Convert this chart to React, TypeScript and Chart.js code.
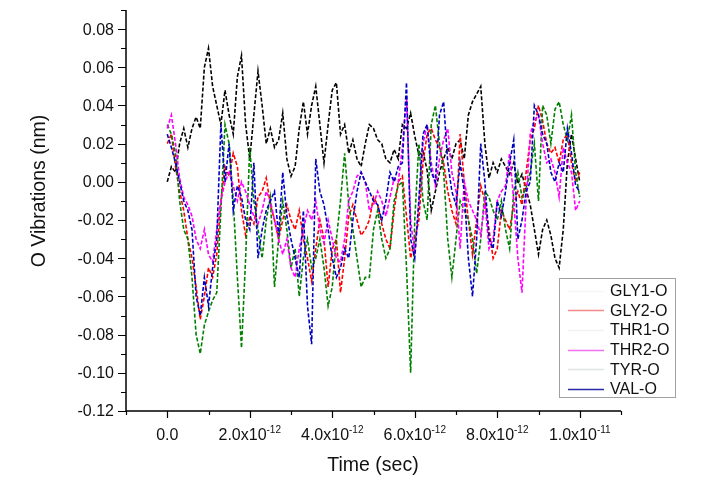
import React, { useRef, useEffect } from 'react';
import { Chart, registerables } from 'chart.js';

Chart.register(...registerables);

// sample spacing of the trajectory (sec)
const timeStep = 1e-13;

const seriesLabels = ['GLY1-O', 'GLY2-O', 'THR1-O', 'THR2-O', 'TYR-O', 'VAL-O'];
const seriesColors = ['#000000', '#ff0000', '#ffffff', '#ff00ff', '#008000', '#0000c0'];
const legendColors = ['#f6f6f6', '#f28a8a', '#f2f2f2', '#f070f0', '#dfe6e2', '#2828a8'];

const gly1 = [
  0.000, 0.008, 0.005, 0.020, 0.028, 0.018, 0.028, 0.034, 0.028, 0.060,
  0.070, 0.050, 0.040, 0.030, 0.048, 0.035, 0.025, 0.055, 0.066, 0.030,
  0.012, 0.035, 0.058, 0.040, 0.020, 0.028, 0.018, 0.022, 0.036, 0.012,
  0.003, 0.008, 0.028, 0.042, 0.025, 0.040, 0.050, 0.030, 0.010, 0.030,
  0.048, 0.052, 0.025, 0.030, 0.015, 0.022, 0.012, 0.008, 0.020, 0.030,
  0.028, 0.022, 0.020, 0.012, 0.010, 0.017, 0.012, 0.030, 0.028, 0.036,
  0.024, 0.014, 0.016, 0.006, -0.015, -0.005, 0.005, 0.012, 0.018, 0.012,
  0.020, 0.022, 0.012, 0.035, 0.042, 0.046, 0.050, 0.020, 0.002, 0.010,
  0.005, 0.012, 0.008, 0.004, 0.010, -0.001, 0.004, -0.004, -0.012, -0.025,
  -0.038, -0.025, -0.020, -0.028, -0.040, -0.045, -0.025, 0.010, 0.025, 0.012,
  0.000,
];

const gly2 = [
  0.020, 0.025, 0.008, -0.005, -0.015, -0.030, -0.040, -0.055, -0.072, -0.060,
  -0.045, -0.050, -0.038, -0.010, 0.008, 0.003, 0.015, 0.008, -0.015, -0.028,
  -0.018, -0.022, -0.008, -0.005, 0.002, -0.012, -0.020, -0.030, -0.020, -0.012,
  -0.020, -0.025, -0.015, -0.030, -0.040, -0.052, -0.035, -0.020, -0.030, -0.055,
  -0.035, -0.030, -0.058, -0.040, -0.018, -0.012, -0.020, -0.028, -0.025, -0.020,
  -0.008, -0.012, -0.022, -0.030, -0.035, -0.015, 0.000, 0.003, -0.018, -0.040,
  -0.030, -0.020, 0.010, 0.025, 0.028, 0.022, 0.018, 0.010, -0.005, -0.015,
  -0.022, 0.025, 0.000, -0.020, -0.038, -0.020, -0.002, -0.010, -0.025, -0.040,
  -0.035, -0.015, -0.020, -0.025, -0.012, -0.005, -0.012, 0.005, 0.022, 0.028,
  0.040, 0.032, 0.020, 0.015, 0.018, 0.010, 0.022, 0.025, 0.010, 0.000,
  0.005,
];

const thr2 = [
  0.028, 0.035, 0.020, 0.002, -0.008, -0.012, -0.018, -0.030, -0.035, -0.025,
  -0.038, -0.042, -0.025, -0.010, 0.000, 0.005, -0.002, -0.010, 0.000, -0.005,
  -0.012, -0.018, -0.022, -0.015, -0.005, -0.010, -0.020, -0.030, -0.038, -0.030,
  -0.045, -0.050, -0.035, -0.025, -0.015, -0.020, -0.010, -0.025, -0.032, -0.020,
  -0.030, -0.040, -0.042, -0.030, -0.010, -0.005, 0.003, 0.005, 0.000, -0.015,
  -0.012, -0.005, -0.010, -0.018, -0.008, 0.002, 0.000, 0.018, 0.045, -0.020,
  -0.038, -0.010, 0.020, 0.030, 0.010, -0.002, 0.012, 0.022, 0.028, 0.005,
  -0.005, -0.035, 0.000, -0.010, -0.015, -0.020, -0.028, -0.010, -0.035, -0.030,
  -0.010, -0.005, -0.002, 0.015, -0.010, -0.040, -0.058, -0.010, 0.025, 0.032,
  0.035, 0.020, 0.010, 0.012, 0.005, -0.008, 0.018, 0.010, 0.005, -0.015,
  -0.010,
];

const tyr = [
  0.030, 0.025, 0.015, -0.010, -0.025, -0.030, -0.050, -0.080, -0.090, -0.075,
  -0.068, -0.062, -0.058, -0.015, 0.030, 0.020, -0.010, -0.050, -0.087, -0.040,
  0.018, -0.010, -0.025, -0.040, -0.020, -0.008, -0.055, -0.030, -0.010, -0.025,
  -0.045, -0.035, -0.060, -0.040, -0.030, -0.045, -0.040, -0.030, -0.045, -0.065,
  -0.055, -0.030, -0.010, 0.015, -0.012, -0.025, -0.040, -0.055, -0.050, -0.050,
  -0.025, -0.015, -0.030, -0.040, -0.035, -0.010, -0.002, 0.000, -0.045, -0.100,
  -0.020, 0.020, -0.010, -0.020, 0.030, 0.040, 0.020, 0.005, -0.030, -0.050,
  -0.030, -0.010, -0.015, -0.020, -0.030, -0.048, -0.030, -0.005, -0.008, -0.015,
  -0.020, -0.010, -0.025, -0.035, -0.005, 0.005, -0.008, -0.003, 0.005, 0.020,
  -0.010, 0.040, 0.035, 0.020, 0.038, 0.042, 0.030, 0.022, 0.035, 0.005,
  -0.008,
];

const val = [
  0.025, 0.018, 0.010, 0.000, -0.010, -0.015, -0.025, -0.060, -0.070, -0.050,
  -0.065, -0.045, -0.030, 0.030, 0.000, 0.020, -0.015, -0.002, -0.008, -0.020,
  -0.025, 0.010, -0.040, -0.025, -0.015, -0.010, -0.005, -0.028, 0.005, -0.018,
  -0.030, -0.040, -0.050, -0.015, -0.065, -0.085, 0.012, -0.005, -0.012, -0.025,
  -0.040, -0.050, -0.045, -0.035, -0.040, -0.020, -0.005, 0.005, 0.000, -0.005,
  -0.010, -0.012, -0.020, -0.010, 0.005, 0.000, 0.008, 0.010, 0.052, -0.030,
  -0.040, -0.010, 0.025, 0.030, 0.005, 0.000, 0.035, 0.042, 0.010, -0.005,
  -0.012, 0.010, -0.005, -0.040, -0.060, -0.030, 0.020, 0.000, -0.030, -0.035,
  -0.010, -0.018, -0.005, 0.010, 0.022, -0.030, -0.020, -0.005, 0.000, 0.040,
  0.035, 0.025, 0.020, 0.005, 0.000, 0.010, 0.005, 0.028, 0.015, -0.002,
  -0.005,
];

// THR1-O has no visible trace in the figure
const seriesValues = [gly1, gly2, [] as number[], thr2, tyr, val];
const drawOrder = [5, 4, 6, 1, 3, 0];

const xMajorTicks = [0, 2e-12, 4e-12, 6e-12, 8e-12, 1e-11];
const xTickBase = ['0.0', '2.0x10', '4.0x10', '6.0x10', '8.0x10', '1.0x10'];
const xTickExp = ['', '-12', '-12', '-12', '-12', '-11'];
const xMinorTicks = [-1e-12, 1e-12, 3e-12, 5e-12, 7e-12, 9e-12, 1.1e-11];

const yMajorTicks = [-0.12, -0.1, -0.08, -0.06, -0.04, -0.02, 0, 0.02, 0.04, 0.06, 0.08];
const yMinorTicks = [-0.11, -0.09, -0.07, -0.05, -0.03, -0.01, 0.01, 0.03, 0.05, 0.07, 0.09];

const FONT = '"Liberation Sans", Arial, sans-serif';

const axesPlugin = {
  id: 'originAxes',
  afterDraw(chart: any) {
    const { ctx, chartArea } = chart;
    const xs = chart.scales.x;
    const ys = chart.scales.y;
    const left = chartArea.left;
    const bottom = chartArea.bottom;
    ctx.save();
    ctx.strokeStyle = '#000';
    ctx.fillStyle = '#000';
    ctx.lineWidth = 1.5;
    ctx.beginPath();
    ctx.moveTo(left, chartArea.top);
    ctx.lineTo(left, bottom);
    ctx.lineTo(chartArea.right, bottom);
    ctx.stroke();

    ctx.lineWidth = 1.2;
    ctx.beginPath();
    for (const v of yMajorTicks) {
      const y = Math.round(ys.getPixelForValue(v)) + 0.5;
      ctx.moveTo(left, y);
      ctx.lineTo(left - 8, y);
    }
    for (const v of yMinorTicks) {
      const y = Math.round(ys.getPixelForValue(v)) + 0.5;
      ctx.moveTo(left, y);
      ctx.lineTo(left - 5, y);
    }
    for (const v of xMajorTicks) {
      const x = Math.round(xs.getPixelForValue(v)) + 0.5;
      ctx.moveTo(x, bottom);
      ctx.lineTo(x, bottom + 7);
    }
    for (const v of xMinorTicks) {
      const x = Math.round(xs.getPixelForValue(v)) + 0.5;
      ctx.moveTo(x, bottom);
      ctx.lineTo(x, bottom + 4);
    }
    ctx.stroke();

    ctx.fillStyle = '#111';
    ctx.font = `16px ${FONT}`;
    ctx.textAlign = 'right';
    ctx.textBaseline = 'middle';
    for (const v of yMajorTicks) {
      ctx.fillText(v.toFixed(2), left - 12, ys.getPixelForValue(v) + 1);
    }

    ctx.textBaseline = 'alphabetic';
    ctx.textAlign = 'left';
    xMajorTicks.forEach((v, i) => {
      ctx.font = `16px ${FONT}`;
      const bw = ctx.measureText(xTickBase[i]).width;
      ctx.font = `10px ${FONT}`;
      const ew = xTickExp[i] ? ctx.measureText(xTickExp[i]).width : 0;
      const x0 = xs.getPixelForValue(v) - (bw + ew) / 2;
      ctx.font = `16px ${FONT}`;
      ctx.fillText(xTickBase[i], x0, bottom + 29);
      if (xTickExp[i]) {
        ctx.font = `10px ${FONT}`;
        ctx.fillText(xTickExp[i], x0 + bw, bottom + 22);
      }
    });

    ctx.font = `19.5px ${FONT}`;
    ctx.textAlign = 'center';
    ctx.textBaseline = 'middle';
    ctx.fillText('Time (sec)', 373, 466);
    ctx.save();
    ctx.translate(40, 191);
    ctx.rotate(-Math.PI / 2);
    ctx.fillText('O Vibrations (nm)', 0, 0);
    ctx.restore();
    ctx.restore();
  },
};

const legendPlugin = {
  id: 'boxLegend',
  afterDraw(chart: any) {
    const { ctx } = chart;
    const bx = 559.5, by = 278.5, bw = 116, bh = 119;
    ctx.save();
    ctx.fillStyle = '#fff';
    ctx.fillRect(bx, by, bw, bh);
    ctx.strokeStyle = '#a0a0a0';
    ctx.lineWidth = 1;
    ctx.strokeRect(bx, by, bw, bh);
    ctx.font = `16px ${FONT}`;
    ctx.textAlign = 'left';
    ctx.textBaseline = 'middle';
    chart.data.datasets.forEach((ds: any, i: number) => {
      const y = by + 12 + i * 19.7;
      ctx.strokeStyle = legendColors[i];
      ctx.lineWidth = 1.3;
      ctx.beginPath();
      ctx.moveTo(568, Math.round(y) + 0.5);
      ctx.lineTo(604, Math.round(y) + 0.5);
      ctx.stroke();
      ctx.fillStyle = '#111';
      ctx.fillText(ds.label, 610, y + 1);
    });
    ctx.restore();
  },
};

const ChartComponent: React.FC = () => {
  const canvasRef = useRef<HTMLCanvasElement>(null);

  useEffect(() => {
    document.body.style.margin = '0';
    if (!canvasRef.current) return;
    const datasets = seriesLabels.map((label, i) => ({
      label,
      data: seriesValues[i].map((v, k) => ({ x: k * timeStep, y: v })),
      borderColor: seriesColors[i],
      backgroundColor: seriesColors[i],
      borderWidth: 1.6,
      borderDash: [4, 2],
      pointRadius: 0,
      tension: 0,
      fill: false,
      order: drawOrder[i],
    }));
    const chart = new Chart(canvasRef.current, {
      type: 'line',
      data: { datasets },
      options: {
        responsive: false,
        animation: false,
        devicePixelRatio: 1,
        layout: { padding: { left: 126, right: 81, top: 10, bottom: 77 } },
        plugins: { legend: { display: false }, tooltip: { enabled: false } },
        scales: {
          x: { type: 'linear', min: -1e-12, max: 1.1e-11, display: false },
          y: { type: 'linear', min: -0.12, max: 0.09, display: false },
        },
      },
      plugins: [axesPlugin, legendPlugin],
    });
    return () => {
      chart.destroy();
    };
  }, []);

  return <canvas ref={canvasRef} width={702} height={488} style={{ display: 'block' }} />;
};

export default function App() {
  return <ChartComponent />;
}
